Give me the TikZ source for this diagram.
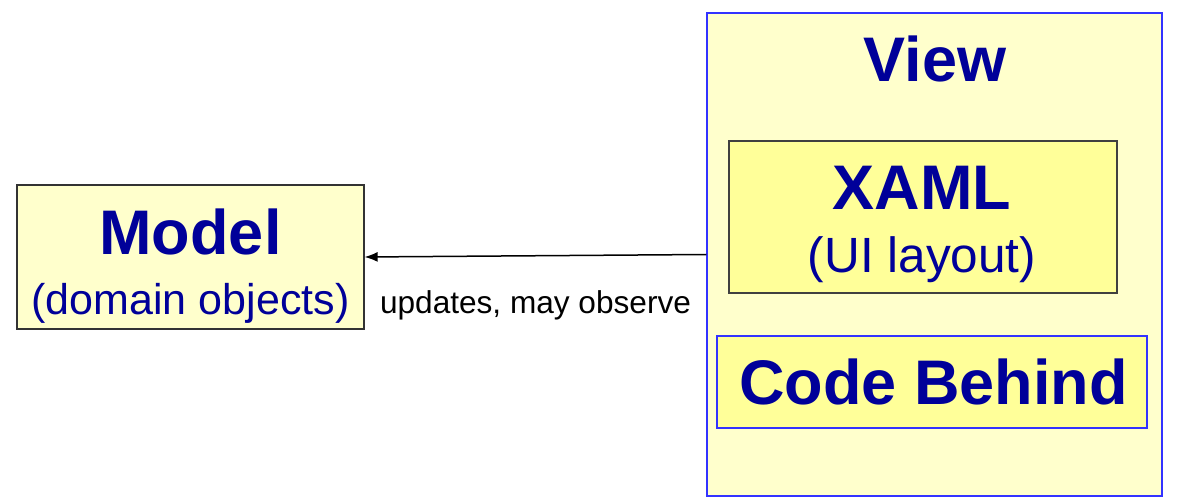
\documentclass[tikz,border=0pt]{standalone}
\usepackage{fontspec}
\setmainfont{Liberation Sans}
\usepackage{xcolor}
\usetikzlibrary{arrows.meta}

\definecolor{paleyellow}{HTML}{FFFFCC}
\definecolor{lightyellow}{HTML}{FFFF99}
\definecolor{titleblue}{HTML}{000099}
\definecolor{frameblue}{HTML}{3333FF}

\begin{document}
\begin{tikzpicture}[x=1pt,y=-1pt]
\tikzstyle{outerbox}=[rectangle,fill=paleyellow,line width=1.2pt,inner sep=0pt]
\tikzstyle{innerbox}=[rectangle,fill=lightyellow,line width=1.2pt,inner sep=0pt]
\tikzstyle{title}=[text=titleblue,inner sep=0pt,font=\bfseries\fontsize{63}{63}\selectfont]
\tikzstyle{subtitle}=[text=titleblue,inner sep=0pt]

\useasboundingbox (0,0) rectangle (1177,502);

\node[outerbox,draw=black!80,minimum width=347pt,minimum height=144pt](Model) at (190.5,257){};
\node[outerbox,draw=frameblue,minimum width=455pt,minimum height=483pt](View) at (934.5,254.5){};
\node[innerbox,draw=black!75,minimum width=388pt,minimum height=152pt](XAML) at (923,217){};
\node[innerbox,draw=frameblue,minimum width=430pt,minimum height=92pt](Code) at (932,382){};

\node[title](ModelTitle) at (190.5,232){Model};
\node[subtitle,font=\fontsize{43}{43}\selectfont](ModelSub) at (190.5,303){(domain objects)};
\node[title](ViewTitle) at (935,58.5){View};
\node[title](XAMLTitle) at (922,187.5){XAML};
\node[subtitle,font=\fontsize{49.5}{49.5}\selectfont](XAMLSub) at (922,260){(UI layout)};
\node[title](CodeTitle) at (933.5,382){Code Behind};

\draw[-{Latex[length=13pt,width=10pt]},line width=1.5pt] (View.west) -- (Model.east)
  node[pos=0.5,below=34pt,inner sep=0pt,font=\fontsize{31.6}{31.6}\selectfont](Updates){updates, may observe};

\end{tikzpicture}
\end{document}
